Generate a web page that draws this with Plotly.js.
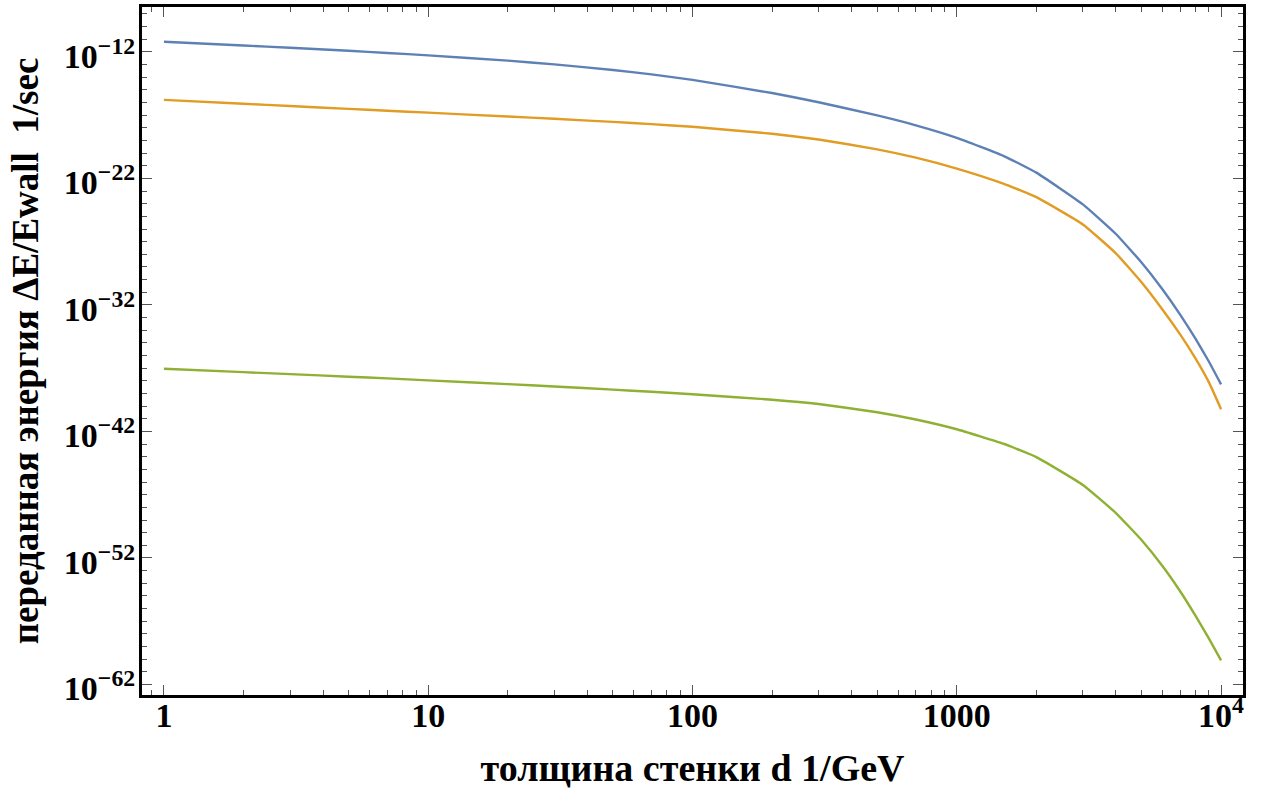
<!DOCTYPE html>
<html>
<head>
<meta charset="utf-8">
<script src="https://cdn.plot.ly/plotly-3.0.1.min.js"></script>
<style>html,body{margin:0;padding:0;background:#fff;}#chart{width:1265px;height:793px;}</style>
</head>
<body>
<div id="chart"></div>
<script>
// wall thickness d (1/GeV)
const thickness = [1, 2, 3, 5, 7, 10, 20, 30, 50, 70, 100, 200, 300, 500, 700, 1000, 1500, 2000, 3000, 4000, 5000, 6000, 7000, 8000, 9000, 10000];
// transferred energy ΔE/Ewall (1/sec), three curves
const blueSeries = [6.31e-12, 3.21e-12, 2.12e-12, 1.22e-12, 8.28e-13, 5.37e-13, 2.04e-13, 1.03e-13, 3.72e-14, 1.66e-14, 6.11e-15, 5.62e-16, 1.05e-16, 9.55e-18, 1.58e-18, 1.62e-19, 6.17e-21, 2.88e-22, 8.91e-25, 4.07e-27, 2.29e-29, 1.74e-31, 1.74e-33, 2.19e-35, 3.24e-37, 5.25e-39];
const orangeSeries = [1.62e-16, 7.94e-17, 5.25e-17, 3.16e-17, 2.26e-17, 1.58e-17, 7.85e-18, 5.16e-18, 2.95e-18, 1.95e-18, 1.20e-18, 3.39e-19, 1.20e-19, 2.00e-20, 4.37e-21, 6.03e-22, 3.89e-23, 3.31e-24, 2.29e-26, 1.20e-28, 6.17e-31, 4.37e-33, 4.68e-35, 6.03e-37, 7.59e-39, 5.75e-41];
const greenSeries = [9.12e-38, 4.89e-38, 3.40e-38, 2.13e-38, 1.56e-38, 1.10e-38, 5.50e-39, 3.59e-39, 2.04e-39, 1.36e-39, 8.71e-40, 3.24e-40, 1.47e-40, 3.34e-41, 8.85e-42, 1.49e-42, 1.07e-43, 9.38e-45, 5.92e-47, 3.57e-49, 2.62e-51, 2.32e-53, 2.35e-55, 2.77e-57, 4.17e-59, 8.05e-61];

const xTickVals = [1, 10, 100, 1000, 10000];
const xTickText = ['1', '10', '100', '1000', '10<sup>4</sup>'];
const yTickVals = [1e-12, 1e-22, 1e-32, 1e-42, 1e-52, 1e-62];
const yTickText = ['10<sup>−12</sup>', '10<sup>−22</sup>', '10<sup>−32</sup>', '10<sup>−42</sup>', '10<sup>−52</sup>', '10<sup>−62</sup>'];

const colors = ['#5E81B5', '#E19C24', '#8FB032'];
const seriesList = [blueSeries, orangeSeries, greenSeries];

const traces = seriesList.map((ys, i) => ({
  x: thickness, y: ys, type: 'scatter', mode: 'lines',
  line: {color: colors[i], width: 2.4, shape: 'spline', smoothing: 0.4},
  hoverinfo: 'skip', showlegend: false
}));

const fam = '"Liberation Serif", "Times New Roman", serif';
const tickFont = {family: fam, size: 34, color: '#000', weight: 'bold'};
const xTitleFont = {family: fam, size: 38, color: '#000', weight: 'bold'};
const yTitleFont = {family: fam, size: 37, color: '#000', weight: 'bold'};

const layout = {
  width: 1265, height: 793,
  margin: {l: 142, r: 22, t: 7, b: 98},
  paper_bgcolor: '#fff', plot_bgcolor: '#fff',
  font: tickFont,
  showlegend: false,
  xaxis: {
    type: 'log', range: [-0.083, 4.083],
    tickmode: 'array', tickvals: xTickVals, ticktext: xTickText,
    ticks: 'inside', ticklen: 10, tickwidth: 1, tickcolor: '#555',
    minor: {dtick: 'D1', ticks: 'inside', ticklen: 5, tickwidth: 1, tickcolor: '#555', showgrid: false},
    showline: true, linecolor: '#000', linewidth: 3, mirror: 'allticks',
    showgrid: false, zeroline: false,
    tickfont: tickFont, ticklabelstandoff: -12,
    title: {text: 'толщина стенки d 1/GeV', font: xTitleFont, standoff: 22}
  },
  yaxis: {
    type: 'log', range: [-62.83, -8.45],
    tickmode: 'array', tickvals: yTickVals, ticktext: yTickText,
    ticks: 'inside', ticklen: 10, tickwidth: 1, tickcolor: '#555',
    minor: {tickmode: 'linear', tick0: 0, dtick: 1, ticks: 'inside', ticklen: 5, tickwidth: 1, tickcolor: '#555', showgrid: false},
    showline: true, linecolor: '#000', linewidth: 3, mirror: 'allticks',
    showgrid: false, zeroline: false,
    tickfont: tickFont, ticklabelstandoff: -3, ticklabelshift: 4,
    title: {text: 'переданная энергия ΔE/Ewall\u00A0\u00A01/sec', font: yTitleFont, standoff: 14}
  }
};

Plotly.newPlot('chart', traces, layout, {staticPlot: true, displayModeBar: false});
</script>
</body>
</html>
